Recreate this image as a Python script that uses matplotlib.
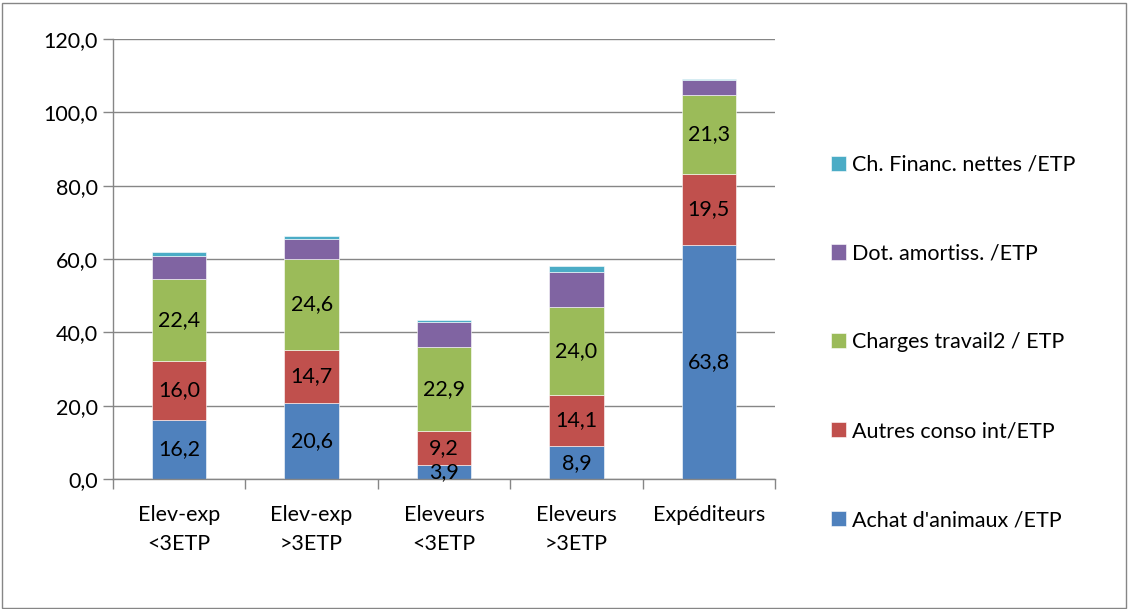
import matplotlib.pyplot as plt
from matplotlib.patches import Rectangle
import numpy as np

plt.rcParams['font.family'] = ['Lato', 'DejaVu Sans']

categories = ['Elev-exp\n<3ETP', 'Elev-exp\n>3ETP', 'Eleveurs\n<3ETP', 'Eleveurs\n>3ETP', 'Expéditeurs']
achat = [16.2, 20.6, 3.9, 8.9, 63.8]
autres = [16.0, 14.7, 9.2, 14.1, 19.5]
travail = [22.4, 24.6, 22.9, 24.0, 21.3]
amort = [6.2, 5.5, 6.7, 9.4, 4.3]
financ = [1.2, 0.9, 0.7, 1.8, 0.15]

series = [
    ("Achat d'animaux /ETP", achat, '#4F81BD', True),
    ('Autres conso int/ETP', autres, '#C0504D', True),
    ('Charges travail2 / ETP', travail, '#9BBB59', True),
    ('Dot. amortiss. /ETP', amort, '#8064A2', False),
    ('Ch. Financ. nettes /ETP', financ, '#4BACC6', False),
]

FS = 15.5
W, H = 1128, 609
fig = plt.figure(figsize=(W / 100, H / 100), dpi=100)
fig.patches.append(Rectangle((1.5 / W, 1.5 / H), (W - 4) / W, (H - 4) / H,
                             transform=fig.transFigure, fill=False,
                             edgecolor='#868686', linewidth=1))

ax = fig.add_axes([113 / W, (H - 479) / H, 662 / W, 440 / H])
x = np.arange(len(categories))
bottom = np.zeros(len(categories))
handles = []
for label, vals, color, show in series:
    bars = ax.bar(x, vals, 0.41, bottom=bottom, color=color, label=label,
                  edgecolor='white', linewidth=0.4)
    handles.append(bars)
    if show:
        for xi, b, v in zip(x, bottom, vals):
            ax.text(xi, b + v / 2, f'{v:.1f}'.replace('.', ','), ha='center',
                    va='center', fontsize=FS, color='black')
    bottom += np.array(vals)

ax.set_xlim(-0.5, len(categories) - 0.5)
ax.set_ylim(0, 120)
ax.set_yticks(range(0, 121, 20))
ax.set_yticklabels([f'{v},0' for v in range(0, 121, 20)], fontsize=FS)
ax.yaxis.grid(True, color='#868686', linewidth=1)
ax.set_axisbelow(True)
ax.set_xticks(x)
ax.set_xticklabels(categories, fontsize=FS, linespacing=1.55)
ax.set_xticks(np.arange(-0.5, len(categories)), minor=True)
ax.tick_params(axis='x', which='major', length=0, pad=19)
ax.tick_params(axis='x', which='minor', length=7, color='#868686', width=1)
ax.tick_params(axis='y', length=7, color='#868686', width=1, pad=4)
for s in ['top', 'right']:
    ax.spines[s].set_visible(False)
for s in ['left', 'bottom']:
    ax.spines[s].set_color('#868686')
    ax.spines[s].set_linewidth(1)

fig.legend(handles[::-1], [s[0] for s in series][::-1], loc='upper left',
           bbox_to_anchor=(822 / W, (H - 146) / H), frameon=False,
           fontsize=FS, handlelength=0.7, handleheight=0.7,
           handletextpad=0.3, labelspacing=3.2, borderaxespad=0)

fig.savefig('out.png', dpi=100)
